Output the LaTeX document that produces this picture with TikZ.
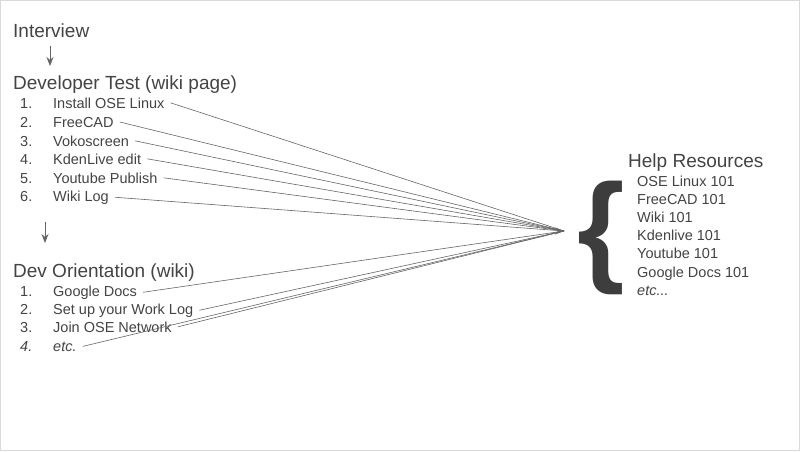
\documentclass[tikz,border=0pt]{standalone}
\usepackage{fontspec}
\setmainfont{Liberation Sans}
\usetikzlibrary{positioning,arrows.meta}
\definecolor{txt}{HTML}{444444}
\definecolor{ln}{HTML}{666666}
\begin{document}
\begin{tikzpicture}[x=1pt,y=-1pt,
    head/.style={anchor=base west, inner sep=1pt, text=txt, font=\fontsize{19}{21}\selectfont},
    item/.style={anchor=base west, inner sep=2pt, text=txt, font=\fontsize{14.5}{16}\selectfont},
    num/.style={anchor=base west, inner sep=0pt, text=txt, font=\fontsize{14.5}{16}\selectfont},
    spoke/.style={ln, line width=0.6pt},
    arrow/.style={-{Stealth[length=9pt,width=7pt]}, ln, line width=0.8pt}
  ]
  \draw[gray!30, fill=white] (0.5,0.5) rectangle (799.5,450.5);
  \useasboundingbox (0,0) rectangle (800,451);

  \node[head] (interview) at (12,37) {Interview};
  \node[head] (devtest) at (12,89) {Developer Test (wiki page)};
  \node[head] (orient) at (12,277) {Dev Orientation (wiki)};
  \coordinate (a1) at (50,46); \coordinate (a2) at (50,66);
  \coordinate (b1) at (45,222); \coordinate (b2) at (45,243);
  \draw[arrow] (a1) -- (a2);
  \draw[arrow] (b1) -- (b2);

  % developer test steps
  \foreach \n/\t/\y in {1/Install OSE Linux/108, 2/FreeCAD/127, 3/Vokoscreen/146,
                        4/KdenLive edit/164, 5/Youtube Publish/183, 6/Wiki Log/201} {
    \node[num] (tn\n) at (20,\y) {\n.};
    \node[item] (t\n) at (51,\y) {\t};
  }
  % orientation steps
  \foreach \n/\t/\y in {1/Google Docs/296, 2/Set up your Work Log/314, 3/Join OSE Network/332} {
    \node[num] (on\n) at (20,\y) {\n.};
    \node[item] (o\n) at (51,\y) {\t};
  }
  \node[num] (on4) at (20,351) {\itshape 4.};
  \node[item] (o4) at (51,351) {\itshape etc.};

  % help resources
  \node[head] (help) at (627,167) {Help Resources};
  \foreach \n/\t/\y in {1/OSE Linux 101/186, 2/FreeCAD 101/204, 3/Wiki 101/222,
                        4/Kdenlive 101/240, 5/Youtube 101/258, 6/Google Docs 101/277} {
    \node[item] (h\n) at (635,\y) {\t};
  }
  \node[item] (h7) at (635,295) {\itshape etc...};
  \node[text=txt!90!black, inner sep=0pt, font=\fontsize{122}{122}\selectfont\bfseries] (brace) at (601,238) {\{};

  \coordinate (hub) at (564,231);
  \foreach \s in {t1,t2,t3,t4,t5,t6,o1,o2,o3,o4}
    \draw[spoke] ([xshift=4pt]\s.east) -- (hub);
  \draw[arrow] ([xshift=-6pt]hub) -- (hub);
\end{tikzpicture}
\end{document}
